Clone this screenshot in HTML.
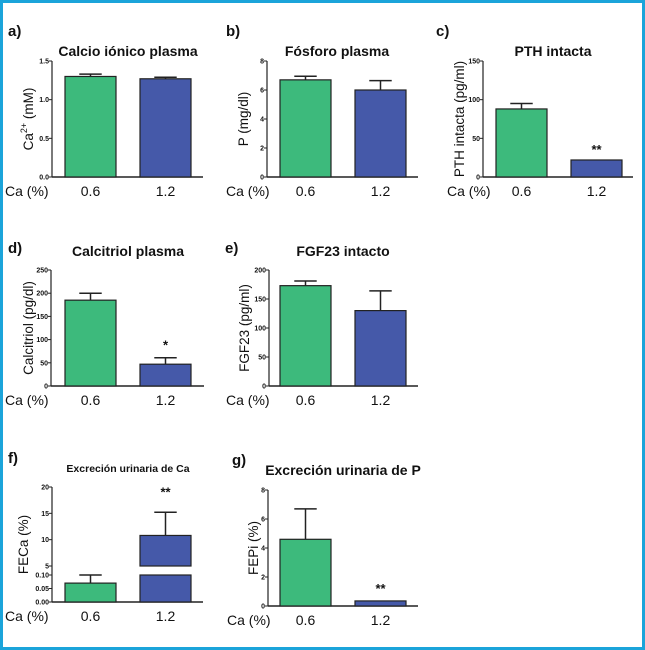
<!DOCTYPE html>
<html><head><meta charset="utf-8">
<style>
html,body{margin:0;padding:0;background:#fff;}
#wrap{position:relative;width:645px;height:650px;box-sizing:border-box;border:3px solid #1ba4da;background:#fff;overflow:hidden;}
svg{position:absolute;left:-3px;top:-3px;}
text{font-family:"Liberation Sans",Arial,sans-serif;fill:#111;}
</style></head>
<body>
<div id="wrap">
<svg id="fig" width="645" height="650" viewBox="0 0 645 650"></svg>
</div>
<script>
// ---- data ----
const categories = ["0.6", "1.2"];
const caVals = [1.30, 1.27];
const caErr = [0.03, 0.02];
const caTicks = ["0.0", "0.5", "1.0", "1.5"];
const pVals = [6.7, 6.0];
const pErr = [0.25, 0.65];
const pTicks = ["0", "2", "4", "6", "8"];
const pthVals = [88, 22];
const pthErr = [7, 0];
const pthTicks = ["0", "50", "100", "150"];
const calcVals = [185, 47];
const calcErr = [15, 14];
const calcTicks = ["0", "50", "100", "150", "200", "250"];
const fgfVals = [173, 130];
const fgfErr = [8, 34];
const fgfTicks = ["0", "50", "100", "150", "200"];
const fecaVals = [0.07, 10.8];
const fecaErr = [0.03, 4.4];
const fecaLowTicks = ["0.00", "0.05", "0.10"];
const fecaHighTicks = ["5", "10", "15", "20"];
const fepiVals = [4.6, 0.35];
const fepiErr = [2.1, 0];
const fepiTicks = ["0", "2", "4", "6", "8"];

const GREEN = "#3dba7c", BLUE = "#4559a9", INK = "#222";
const NS = "http://www.w3.org/2000/svg";
const svg = document.getElementById("fig");

function el(tag, attrs, parent, txt) {
  const e = document.createElementNS(NS, tag);
  for (const k in attrs) e.setAttribute(k, attrs[k]);
  if (txt !== undefined) e.textContent = txt;
  (parent || svg).appendChild(e);
  return e;
}

function panel(cfg) {
  const g = el("g", {});
  
  
  const lbl = el("text", {x: cfg.labelX, y: cfg.labelY, "font-size": 15, "font-weight": "bold"}, g, cfg.letter);
  
  
  const t = el("text", {x: cfg.titleX, y: cfg.titleY, "font-size": cfg.titleSize || 14, "font-weight": "bold", "text-anchor": "middle"}, g, cfg.title);
  
  
  const y = cfg.scale;
  const ax = el("line", {x1: cfg.ax, x2: cfg.ax, y1: cfg.top, y2: cfg.base, stroke: INK, "stroke-width": 1.2}, g);
  
  
  const xa = el("line", {x1: cfg.ax, x2: cfg.axEnd, y1: cfg.base, y2: cfg.base, stroke: INK, "stroke-width": 1.5}, g);
  
  
  cfg.ticks.forEach(tl => {
    const v = parseFloat(tl), ty = y(v);
    el("line", {x1: cfg.ax - 3, x2: cfg.ax, y1: ty, y2: ty, stroke: INK, "stroke-width": 1}, g);
    const tt = el("text", {x: cfg.ax - 3, y: ty + 2.5, "font-size": 7, "font-weight": "bold", "text-anchor": "end"}, g, tl);
    
    
  });
  const yt = el("text", {x: 0, y: 0, "font-size": 13.5, "text-anchor": "middle", transform: `translate(${cfg.ytX},${(cfg.top + cfg.base) / 2}) rotate(-90)`}, g);
  yt.innerHTML = cfg.yTitle;
  
  
  cfg.vals.forEach((v, i) => {
    const x0 = cfg.barX[i], w = cfg.barW;
    const cx = x0 + w / 2;
    const col = i === 0 ? GREEN : BLUE;
    const e = cfg.errs[i];
    if (e > 0) {
      const ey = y(v + e), vy = y(v);
      const eb = el("line", {x1: cx, x2: cx, y1: ey, y2: vy, stroke: INK, "stroke-width": 1.5}, g);
      
      
      el("line", {x1: cx - w * 0.22, x2: cx + w * 0.22, y1: ey, y2: ey, stroke: INK, "stroke-width": 1.5}, g);
    }
    if (cfg.broken && v > cfg.breakHi) {
      const r1 = el("rect", {x: x0, y: y(cfg.breakLo), width: w, height: cfg.base - y(cfg.breakLo), fill: col, stroke: INK, "stroke-width": 1.2}, g);
      
      
      const r2 = el("rect", {x: x0, y: y(v), width: w, height: y(cfg.breakHi) - y(v), fill: col, stroke: INK, "stroke-width": 1.2}, g);
      
      
    } else {
      const r = el("rect", {x: x0, y: y(v), width: w, height: cfg.base - y(v), fill: col, stroke: INK, "stroke-width": 1.2}, g);
      
      
    }
    const c = el("text", {x: cx, y: cfg.base + 19, "font-size": 14, "text-anchor": "middle"}, g, categories[i]);
    
    
    if (cfg.sig && cfg.sig[i]) {
      const s = el("text", {x: cx, y: y(v + e) - cfg.sigOff, "font-size": 13, "font-weight": "bold", "text-anchor": "middle"}, g, cfg.sig[i]);
      
      
    }
  });
  const cl = el("text", {x: cfg.caX, y: cfg.base + 19, "font-size": 14}, g, "Ca (%)");
  
  
}

function lin(d0, d1, r0, r1) { return v => r0 + (v - d0) / (d1 - d0) * (r1 - r0); }

panel({id: "calcio", letter: "a)", labelX: 8, labelY: 36, title: "Calcio iónico plasma", titleX: 128, titleY: 56,
  ax: 52, axEnd: 203, top: 61, base: 177, scale: lin(0, 1.5, 177, 61), ticks: caTicks,
  ytX: 33, yTitle: 'Ca<tspan font-size="9" dy="-6">2+</tspan><tspan dy="6"> (mM)</tspan>',
  vals: caVals, errs: caErr, barX: [65, 140], barW: 51, caX: 5});
panel({id: "fosforo", letter: "b)", labelX: 226, labelY: 36, title: "Fósforo plasma", titleX: 337, titleY: 56,
  ax: 267, axEnd: 418, top: 61, base: 177, scale: lin(0, 8, 177, 61), ticks: pTicks,
  ytX: 248, yTitle: 'P   (mg/dl)',
  vals: pVals, errs: pErr, barX: [280, 355], barW: 51, caX: 226});
panel({id: "pth", letter: "c)", labelX: 436, labelY: 36, title: "PTH intacta", titleX: 553, titleY: 56,
  ax: 483, axEnd: 633, top: 61, base: 177, scale: lin(0, 150, 177, 61), ticks: pthTicks,
  ytX: 464, yTitle: 'PTH intacta (pg/ml)',
  vals: pthVals, errs: pthErr, barX: [496, 571], barW: 51, sig: ["", "**"], sigOff: 6, caX: 447});
panel({id: "calcitriol", letter: "d)", labelX: 8, labelY: 253, title: "Calcitriol plasma", titleX: 128, titleY: 256,
  ax: 51, axEnd: 204, top: 270, base: 386, scale: lin(0, 250, 386, 270), ticks: calcTicks,
  ytX: 33, yTitle: 'Calcitriol  (pg/dl)',
  vals: calcVals, errs: calcErr, barX: [65, 140], barW: 51, sig: ["", "*"], sigOff: 8, caX: 5});
panel({id: "fgf23", letter: "e)", labelX: 225, labelY: 253, title: "FGF23 intacto", titleX: 343, titleY: 256,
  ax: 269, axEnd: 418, top: 270, base: 386, scale: lin(0, 200, 386, 270), ticks: fgfTicks,
  ytX: 249, yTitle: 'FGF23 (pg/ml)',
  vals: fgfVals, errs: fgfErr, barX: [280, 355], barW: 51, caX: 226});

const fLow = lin(0, 0.10, 602, 575), fHigh = lin(5, 20, 566, 487);
function fecaScale(v) { return v <= 0.10 ? fLow(v) : (v >= 5 ? fHigh(v) : fLow(0.10)); }
panel({id: "feca", letter: "f)", labelX: 8, labelY: 463, title: "Excreción urinaria de Ca", titleX: 128, titleY: 472, titleSize: 10.5,
  ax: 52, axEnd: 203, top: 487, base: 602, scale: fecaScale, ticks: fecaLowTicks.concat(fecaHighTicks),
  ytX: 28, yTitle: 'FECa  (%)', broken: true, breakLo: 0.10, breakHi: 5,
  vals: fecaVals, errs: fecaErr, barX: [65, 140], barW: 51, sig: ["", "**"], sigOff: 16, caX: 5});
panel({id: "fepi", letter: "g)", labelX: 232, labelY: 465, title: "Excreción urinaria de P", titleX: 343, titleY: 475, titleSize: 14,
  ax: 268, axEnd: 418, top: 490, base: 606, scale: lin(0, 8, 606, 490), ticks: fepiTicks,
  ytX: 258, yTitle: 'FEPi (%)',
  vals: fepiVals, errs: fepiErr, barX: [280, 355], barW: 51, sig: ["", "**"], sigOff: 8, caX: 227});
</script>
</body></html>
